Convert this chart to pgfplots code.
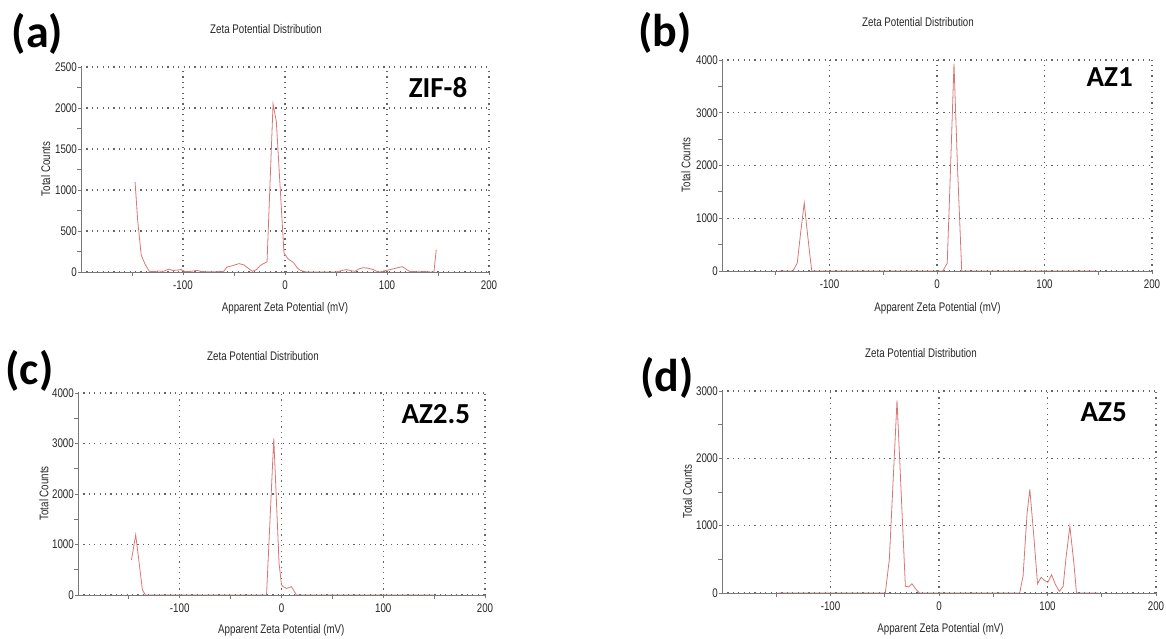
\documentclass[border=0pt]{standalone}
\usepackage{fontspec}
\setmainfont{Liberation Sans}
\newfontfamily\narrowfont{Liberation Sans}[FakeStretch=0.78]
\newfontfamily\labelfont{Carlito}
\usepackage{pgfplots}
\pgfplotsset{compat=1.18}

\definecolor{curve}{RGB}{216,118,118}
\definecolor{axgray}{RGB}{120,120,120}
\definecolor{gridgray}{RGB}{100,100,100}
\definecolor{txt}{RGB}{40,40,40}

\newcommand{\chartfont}{\narrowfont\fontsize{12.5}{14}\selectfont}

\pgfplotsset{
  zeta/.style={
    scale only axis, anchor=south west,
    xmin=-200, xmax=200, ymin=0,
    xtick={-100,0,100,200},
    minor xtick={-150,-50,50,150},
    axis x line=bottom, axis y line=left,
    axis line style={-, draw=axgray, line width=0.9pt},
    every tick/.style={draw=axgray, line width=0.9pt},
    major tick length=3pt, minor tick length=4pt,
    tick align=outside,
    grid=major,
    major grid style={draw=gridgray, line width=1.1pt, dash pattern=on 1.1pt off 4.3pt},
    tick label style={font=\chartfont, text=txt},
    xticklabel style={yshift=-2pt},
    yticklabel style={inner sep=1pt},
    /pgf/number format/assume math mode=true,
    /pgf/number format/1000 sep={},
    scaled ticks=false,
  },
  trace/.style={draw=curve, line width=0.8pt, no markers},
}

\begin{document}
\begin{tikzpicture}
\useasboundingbox (0,0) rectangle (1166pt,639pt);

% (a) ZIF-8
\begin{axis}[zeta, at={(81pt,367pt)}, width=408pt, height=205pt,
  ymax=2500, ytick={0,500,1000,1500,2000,2500},
  minor ytick={250,750,1250,1750,2250}]
\addplot[trace] coordinates {
 (-147,1100) (-144.5,640) (-141,207) (-137,90) (-133,8) (-128,5) (-124,12)
 (-119,8) (-114,35) (-110,18) (-106,22) (-102,30) (-98,5) (-92,8) (-86,20)
 (-82,5) (-75,3) (-68,3) (-60,8) (-57,60) (-52,75) (-45,102) (-40,85) (-36,45)
 (-32,8) (-28,30) (-24,82) (-17.6,126) (-11.7,2050) (-8.5,1835) (-1,230)
 (3,160) (8.4,114) (12,50) (15,20) (21,0) (35,0) (50,0) (55,15) (60,29)
 (65,15) (68.6,8) (72,35) (76.7,53) (82,45) (86.4,29) (90,8) (93,0) (99.5,20)
 (105,35) (110,50) (115,65) (122,8) (130,3) (137,5) (143.4,0) (146,0) (148.3,273)
};
\end{axis}

% (b) AZ1
\begin{axis}[zeta, at={(722pt,368pt)}, width=430pt, height=211pt,
  ymax=4000, ytick={0,1000,2000,3000,4000},
  minor ytick={500,1500,2500,3500}]
\addplot[trace] coordinates {
 (-147,0) (-134,0) (-130,150) (-127,700) (-123.5,1290) (-121,800) (-118,250)
 (-116.5,0) (-50,0) (5.5,0) (9.5,150) (12,1600) (15.8,3930) (19,2000) (23,0)
 (80,0) (149,0)
};
\end{axis}

% (c) AZ2.5
\begin{axis}[zeta, at={(78pt,44pt)}, width=407pt, height=202pt,
  ymax=4000, ytick={0,1000,2000,3000,4000},
  minor ytick={500,1500,2500,3500}]
\addplot[trace] coordinates {
 (-147.5,690) (-143.3,1190) (-140,650) (-136.7,100) (-133.7,0) (-100,0)
 (-50,0) (-14.7,0) (-7.6,3100) (-2.4,630) (0,200) (1.6,165) (4.9,130)
 (9.8,165) (14.7,0) (50,0) (100,0) (149,0)
};
\end{axis}

% (d) AZ5
\begin{axis}[zeta, at={(722pt,46pt)}, width=434pt, height=202pt,
  ymax=3000, ytick={0,1000,2000,3000},
  minor ytick={500,1500,2500}]
\addplot[trace] coordinates {
 (-148.5,0) (-100,0) (-49.5,0) (-45.8,495) (-38.7,2860) (-31,100) (-28,90)
 (-25,138) (-21,50) (-18,0) (0,0) (50,0) (74.4,0) (77.5,260) (81.2,1190)
 (83.7,1540) (87.4,840) (90.8,138) (94.1,232) (97.2,187) (100.3,158)
 (103.7,272) (107.4,123) (111,24) (114.4,99) (117.2,544) (120.6,990)
 (124.3,446) (126.7,0) (147,0)
};
\end{axis}

% titles and axis labels
\begin{scope}[every node/.style={font=\chartfont, text=txt, inner sep=0pt, anchor=center}]
\node at (266pt,609.7pt) {Zeta Potential Distribution};
\node at (918pt,617.3pt) {Zeta Potential Distribution};
\node at (263pt,283pt) {Zeta Potential Distribution};
\node at (921pt,285.7pt) {Zeta Potential Distribution};
\node at (285pt,330.7pt) {Apparent Zeta Potential (mV)};
\node at (937.5pt,330.7pt) {Apparent Zeta Potential (mV)};
\node at (281.3pt,9pt) {Apparent Zeta Potential (mV)};
\node at (940.5pt,10pt) {Apparent Zeta Potential (mV)};
\node[rotate=90] at (45.7pt,470pt) {Total Counts};
\node[rotate=90] at (686pt,474pt) {Total Counts};
\node[rotate=90] at (44pt,145.7pt) {Total Counts};
\node[rotate=90] at (687.3pt,147.3pt) {Total Counts};
\end{scope}

% panel letters and sample names
\begin{scope}[every node/.style={inner sep=0pt, anchor=center}]
\node[font=\labelfont\bfseries\fontsize{46}{50}\selectfont] at (37.5pt,605pt) {(a)};
\node[font=\labelfont\bfseries\fontsize{46}{50}\selectfont] at (665pt,606pt) {(b)};
\node[font=\labelfont\bfseries\fontsize{46}{50}\selectfont] at (29.5pt,268pt) {(c)};
\node[font=\labelfont\bfseries\fontsize{46}{50}\selectfont] at (667pt,261pt) {(d)};
\node[font=\labelfont\bfseries\fontsize{29}{32}\selectfont] at (438pt,551.5pt) {ZIF-8};
\node[font=\labelfont\bfseries\fontsize{29}{32}\selectfont] at (1109.7pt,562.3pt) {AZ1};
\node[font=\labelfont\bfseries\fontsize{29}{32}\selectfont] at (435.8pt,225.2pt) {AZ2.5};
\node[font=\labelfont\bfseries\fontsize{29}{32}\selectfont] at (1103.7pt,227pt) {AZ5};
\end{scope}
\end{tikzpicture}
\end{document}
